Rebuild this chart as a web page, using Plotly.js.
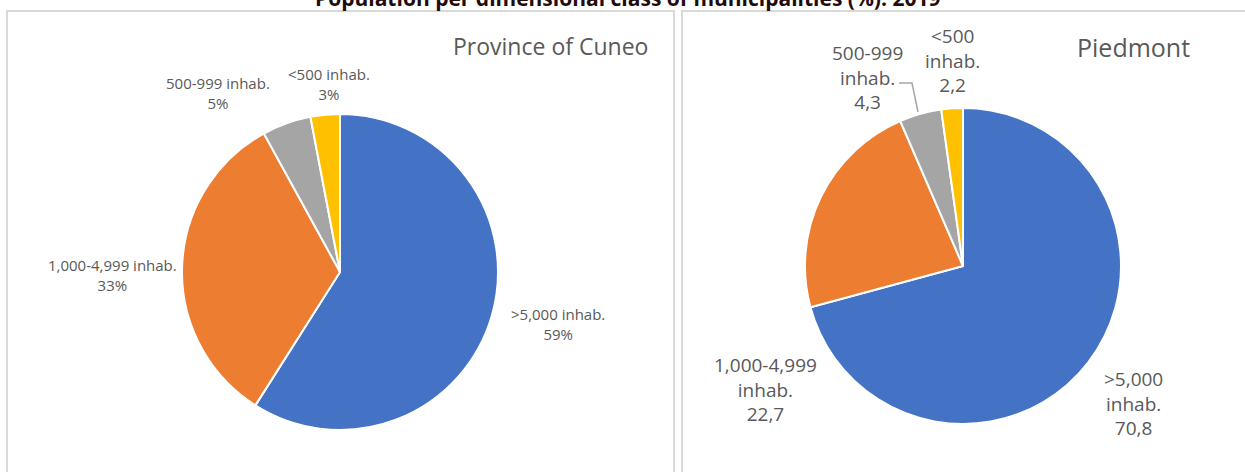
<!DOCTYPE html>
<html>
<head>
<meta charset="utf-8">
<script src="https://cdn.plot.ly/plotly-3.0.1.min.js"></script>
<style>html,body{margin:0;padding:0;background:#fff;}#chart{width:1245px;height:472px;}</style>
</head>
<body>
<div id="chart"></div>
<script>
// ---- data ----
const categories = [">5,000 inhab.", "1,000-4,999 inhab.", "500-999 inhab.", "<500 inhab."];
const cuneoValues = [59, 33, 5, 3];
const piedmontValues = [70.8, 22.7, 4.3, 2.2];
const panelTitles = ["Province of Cuneo", "Piedmont"];
const chartTitle = "Population per dimensional class of municipalities (%). 2019";

// ---- layout helpers ----
const W = 1245, H = 472;
const px = x => x / W;
const py = y => 1 - y / H;
const esc = s => s.replace(/</g, "&lt;").replace(/>/g, "&gt;");
const colors = ["#4472C4", "#ED7D31", "#A5A5A5", "#FFC000"];
const labelColor = "#595959";

function pieTrace(values, cx, cy, r) {
  return {
    type: "pie",
    labels: categories,
    values: values,
    sort: false,
    direction: "clockwise",
    rotation: 0,
    textinfo: "none",
    hoverinfo: "label+value",
    marker: {colors: colors, line: {color: "#ffffff", width: 2}},
    domain: {x: [px(cx - r), px(cx + r)], y: [py(cy + r), py(cy - r)]},
    showlegend: false
  };
}

const traces = [
  pieTrace(cuneoValues, 340, 272, 158),
  pieTrace(piedmontValues, 963, 266, 158)
];

// label positions (pixel centres)
const cuneoPos = [[558, 324], [112, 275], [218, 93], [329, 84]];
const piedPos = [[1133, 403], [765, 389], [867, 77], [952, 60]];

const annotations = [];
categories.forEach((c, i) => {
  annotations.push({
    xref: "paper", yref: "paper", x: px(cuneoPos[i][0]), y: py(cuneoPos[i][1]),
    xanchor: "center", yanchor: "middle", showarrow: false, align: "center",
    text: esc(c) + "<br>" + cuneoValues[i] + "%",
    font: {family: "Open Sans, sans-serif", size: 15, color: labelColor}
  });
  const parts = c.split(" ");
  annotations.push({
    xref: "paper", yref: "paper", x: px(piedPos[i][0]), y: py(piedPos[i][1]),
    xanchor: "center", yanchor: "middle", showarrow: false, align: "center",
    text: esc(parts[0]) + "<br>" + parts[1] + "<br>" + String(piedmontValues[i]).replace(".", ","),
    font: {family: "Open Sans, sans-serif", size: 19, color: labelColor}
  });
});
annotations.push({
  xref: "paper", yref: "paper", x: px(650), y: py(46), xanchor: "right", yanchor: "middle",
  showarrow: false, text: panelTitles[0],
  font: {family: "Open Sans, sans-serif", size: 23, color: labelColor}
});
annotations.push({
  xref: "paper", yref: "paper", x: px(1192), y: py(47), xanchor: "right", yanchor: "middle",
  showarrow: false, text: panelTitles[1],
  font: {family: "Open Sans, sans-serif", size: 25, color: labelColor}
});
annotations.push({
  xref: "paper", yref: "paper", x: px(627), y: py(-2), xanchor: "center", yanchor: "middle",
  showarrow: false, text: "<b>" + chartTitle + "</b>",
  font: {family: "Open Sans, sans-serif", size: 21, color: "#220a0a"}
});

const shapes = [
  {type: "rect", xref: "paper", yref: "paper", x0: px(7), x1: px(674), y0: py(480), y1: py(11),
   line: {color: "#d9d9d9", width: 2}, fillcolor: "rgba(0,0,0,0)", layer: "below"},
  {type: "rect", xref: "paper", yref: "paper", x0: px(682), x1: px(1255), y0: py(480), y1: py(11),
   line: {color: "#d9d9d9", width: 2}, fillcolor: "rgba(0,0,0,0)", layer: "below"},
  {type: "path", xref: "paper", yref: "paper",
   path: `M ${px(899)} ${py(83)} L ${px(912)} ${py(83)} L ${px(918)} ${py(112)}`,
   line: {color: "#a6a6a6", width: 1.5}}
];

const layout = {
  width: W, height: H,
  margin: {l: 0, r: 0, t: 0, b: 0},
  paper_bgcolor: "#ffffff",
  showlegend: false,
  annotations: annotations,
  shapes: shapes
};

Plotly.newPlot("chart", traces, layout, {displayModeBar: false, staticPlot: true});
</script>
</body>
</html>
